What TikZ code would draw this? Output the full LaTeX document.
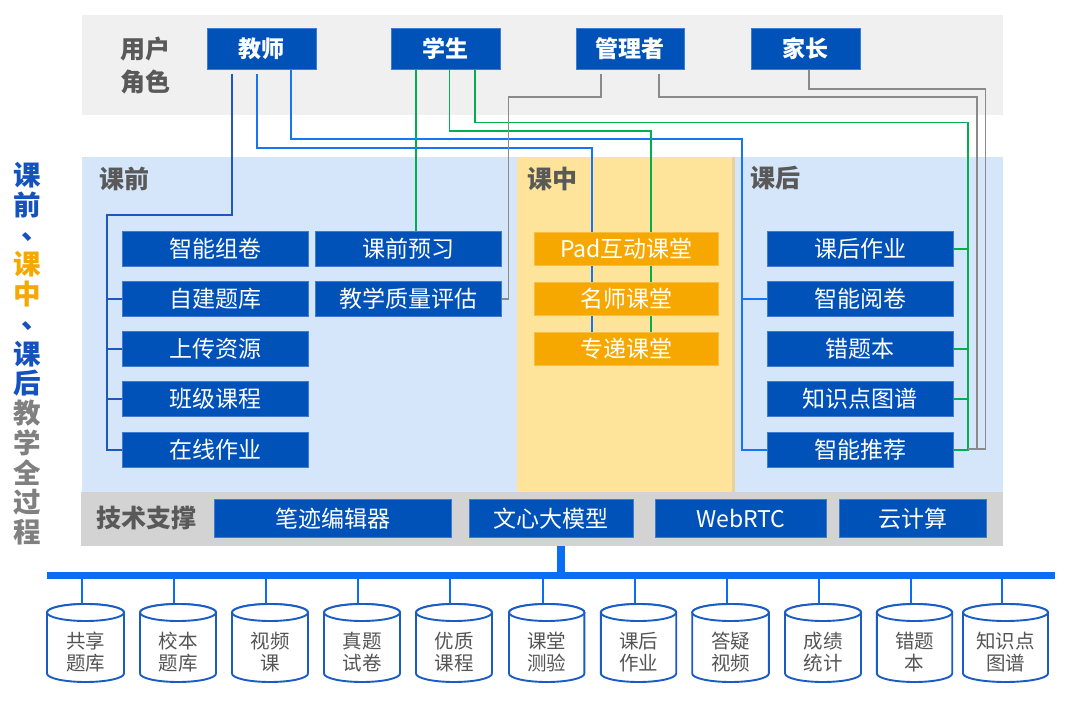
\documentclass[tikz,border=0pt]{standalone}
\usepackage{fontspec}
\setmainfont{Noto Sans CJK SC}
\definecolor{boxblue}{HTML}{0052B9}
\definecolor{boxedge}{HTML}{3F7BD0}
\definecolor{topgray}{HTML}{F0F0F0}
\definecolor{panelblue}{HTML}{D5E6FB}
\definecolor{panelyellow}{HTML}{FDE49A}
\definecolor{yedge}{HTML}{E4D49A}
\definecolor{kzorange}{HTML}{F6A800}
\definecolor{techgray}{HTML}{D3D3D3}
\definecolor{lblgray}{HTML}{595959}
\definecolor{wA}{HTML}{1E58BE}
\definecolor{wB}{HTML}{1675F5}
\definecolor{wG}{HTML}{00B050}
\definecolor{wY}{HTML}{8A8A8A}
\definecolor{busblue}{HTML}{0A6EF5}
\definecolor{cylblue}{HTML}{1A5CC6}
\definecolor{cyltext}{HTML}{555555}
\definecolor{tblue}{HTML}{1452C0}
\definecolor{torange}{HTML}{F5A800}
\definecolor{tgray}{HTML}{808080}
\pgfdeclarelayer{panel}
\pgfdeclarelayer{wires}
\pgfsetlayers{panel,wires,main}
\begin{document}
\begin{tikzpicture}[x=1pt,y=-1pt,
  box/.style={fill=boxblue, draw=boxedge, line width=0.7pt, text=white, inner sep=0pt,
    minimum height=35pt, anchor=north west, font=\fontsize{23}{23}\selectfont},
  rolebox/.style={box, minimum height=41pt, font=\bfseries\fontsize{23}{23}\selectfont},
  obox/.style={box, fill=kzorange, draw=kzorange!75!white, minimum height=33pt},
  techbox/.style={box, minimum height=38pt},
  lbl/.style={text=lblgray, font=\bfseries\fontsize{25}{33}\selectfont, inner sep=0pt},
  ttl/.style={font=\bfseries\fontsize{27.5}{27.5}\selectfont, inner sep=0pt},
  wireA/.style={draw=wA, line width=1.9pt},
  wireB/.style={draw=wB, line width=1.9pt},
  wireG/.style={draw=wG, line width=1.9pt},
  wireY/.style={draw=wY, line width=1.9pt},
  bus/.style={draw=busblue, line width=7.5pt},
  stub/.style={draw=busblue, line width=2pt},
  cyl/.style={draw=cylblue, line width=1.9pt, fill=white},
  cyltxt/.style={text=cyltext, align=center, inner sep=0pt, font=\fontsize{19.5}{21.5}\selectfont}
]
\useasboundingbox (0,0) rectangle (1080,701);

% panels
\begin{pgfonlayer}{panel}
\fill[white] (0,0) rectangle (1080,701);
\fill[topgray] (82,15) rectangle (1003,115);
\fill[panelblue] (82,157) rectangle (1003,492);
\fill[panelyellow] (517,157) rectangle (733,492);
\draw[yedge, line width=2.5pt] (733.5,157) -- (733.5,492);
\end{pgfonlayer}
\node[fill=techgray, inner sep=0pt, minimum width=922pt, minimum height=54pt, anchor=north west] (techband) at (81,492) {};

% left title
\foreach \ch/\col/\dx/\dy [count=\i from 0] in {课/tblue/0/0, 前/tblue/0/0, 、/tblue/8/2, 课/torange/0/0, 中/torange/0/0, 、/tblue/8/2, 课/tblue/0/0, 后/tblue/0/0, 教/tgray/0/0, 学/tgray/0/0, 全/tgray/0/0, 过/tgray/0/0, 程/tgray/0/0}
  \node[ttl, text=\col] (t\i) at (27.5+\dx, 175.5+29.7*\i+\dy) {\ch};

% labels
\node[lbl, align=center] (yonghu) at (145,66) {用户\\角色};
\node[lbl, anchor=west] (kq) at (99,178.5) {课前};
\node[lbl, anchor=west] (kz) at (527,178.5) {课中};
\node[lbl, anchor=west] (kh) at (750,178.5) {课后};
\node[lbl, anchor=west] (jszc) at (96,518.5) {技术支撑};

% role boxes
\node[rolebox, minimum width=109pt] (jiaoshi) at (207,28) {教师};
\node[rolebox, minimum width=109pt] (xuesheng) at (391,28) {学生};
\node[rolebox, minimum width=108pt] (guanli) at (576,28) {管理者};
\node[rolebox, minimum width=109pt] (jiazhang) at (751,28) {家长};

% pre-class
\node[box, minimum width=186pt] (zhineng) at (122,231) {智能组卷};
\node[box, minimum width=186pt] (zijian) at (122,281) {自建题库};
\node[box, minimum width=186pt] (shangchuan) at (122,331) {上传资源};
\node[box, minimum width=186pt] (banji) at (122,381) {班级课程};
\node[box, minimum width=186pt] (zaixian) at (122,432) {在线作业};
\node[box, minimum width=186pt] (yuxi) at (315,231) {课前预习};
\node[box, minimum width=186pt] (zhiliang) at (315,281) {教学质量评估};

% in-class
\node[obox, minimum width=184pt] (pad) at (534,232) {Pad互动课堂};
\node[obox, minimum width=184pt] (mingshi) at (534,282) {名师课堂};
\node[obox, minimum width=184pt] (zhuandi) at (534,332) {专递课堂};

% after-class
\node[box, minimum width=186pt] (kehou) at (767,231) {课后作业};
\node[box, minimum width=186pt] (yuejuan) at (767,281) {智能阅卷};
\node[box, minimum width=186pt] (cuoti) at (767,331) {错题本};
\node[box, minimum width=186pt] (zhishi) at (767,381) {知识点图谱};
\node[box, minimum width=186pt] (tuijian) at (767,432) {智能推荐};

% tech
\node[techbox, minimum width=237pt] (biji) at (214,499) {笔迹编辑器};
\node[techbox, minimum width=164pt] (wenxin) at (469,499) {文心大模型};
\node[techbox, minimum width=171pt] (webrtc) at (655,499) {WebRTC};
\node[techbox, minimum width=147pt] (yun) at (839,499) {云计算};

% wires
\begin{pgfonlayer}{wires}
\draw[wireA] ([xshift=25pt,yshift=-4pt]jiaoshi.south west) |- (107,215) |- (zaixian.west);
\foreach \n in {zijian,shangchuan,banji} \draw[wireA] (\n.west) -- ++(-15,0);
\draw[wireB] ([xshift=50pt,yshift=-4pt]jiaoshi.south west) |- (592,148) -- ([xshift=58pt]zhuandi.north west);
\draw[wireB] ([xshift=84pt,yshift=5pt]jiaoshi.south west) |- (742,139) |- (tuijian.west);
\draw[wireB] (yuejuan.west) -- ++(-25,0);
\draw[wireG] ([xshift=25pt,yshift=5pt]xuesheng.south west) -- ([xshift=101pt]yuxi.north west);
\draw[wireG] ([xshift=58.5pt,yshift=5pt]xuesheng.south west) |- (651,131) -- ([xshift=117pt]zhuandi.north west);
\draw[wireG] ([xshift=84pt,yshift=5pt]xuesheng.south west) |- (968,122.5) |- (tuijian.east);
\foreach \n in {kehou,cuoti,zhishi} \draw[wireG] (\n.east) -- ++(15,0);
\draw[wireY] ([xshift=25pt,yshift=-4pt]guanli.south west) |- (508.5,97) |- (zhiliang.east);
\draw[wireY] ([xshift=83pt,yshift=-4pt]guanli.south west) |- (977,97) -- (977,449.3) -- (968,449.3);
\draw[wireY] ([xshift=58pt,yshift=5pt]jiazhang.south west) |- (985.5,89) -- (985.5,449.3) -- (977,449.3);
% bus
\coordinate (busL) at (47,575.5);
\coordinate (busR) at (1055,575.5);
\draw[bus] (busL) -- (busR);
\draw[draw=busblue, line width=8pt] ([xshift=18.5pt]techband.south) -- ++(0,31);
\end{pgfonlayer}

% databases
\foreach \cx/\rx/\ta/\tb/\nm in {85.5/38.5/共享/题库/c1, 178/38/校本/题库/c2, 270/38/视频/课/c3, 362/38/真题/试卷/c4, 454/38/优质/课程/c5, 546.7/37.7/课堂/测验/c6, 638.5/37.7/课后/作业/c7, 730.5/38.3/答疑/视频/c8, 823/38/成绩/统计/c9, 914.5/37.7/错题/本/c10, 1005.5/42.5/知识点/图谱/c11} {
  \coordinate (\nm-top) at (\cx-4,604);
  \begin{pgfonlayer}{wires}
  \draw[stub] (\nm-top |- busL) -- (\nm-top);
  \end{pgfonlayer}
  \filldraw[cyl] (\cx-\rx,612.5) -- (\cx-\rx,673.5)
     arc[start angle=180, end angle=360, x radius=\rx pt, y radius=8.5pt]
     -- (\cx+\rx,612.5)
     arc[start angle=0, end angle=180, x radius=\rx pt, y radius=8.5pt] -- cycle;
  \draw[cyl] (\cx,612.5) ellipse[x radius=\rx pt, y radius=8.5pt];
  \node[cyltxt] (\nm) at (\cx,652) {\ta\\\tb};
}
\end{tikzpicture}
\end{document}
